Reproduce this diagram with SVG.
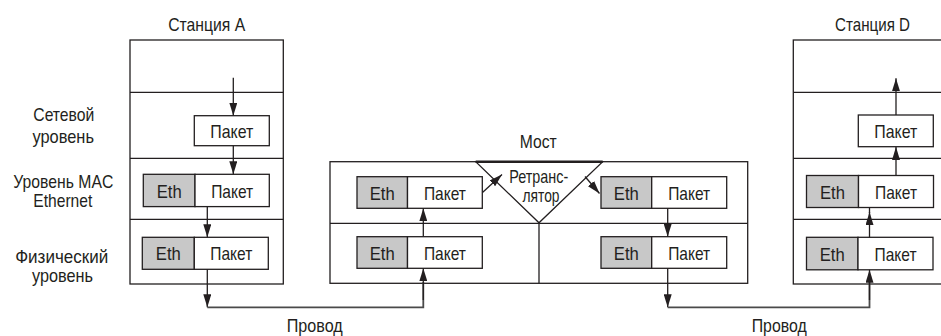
<svg xmlns="http://www.w3.org/2000/svg" width="941" height="336" viewBox="0 0 941 336">
<style>
.frame{fill:#fff;stroke:#231f20;stroke-width:1.3}
.div{stroke:#231f20;stroke-width:1.3;fill:none}
.eth{fill:#c8c8c8;stroke:#231f20;stroke-width:1.3}
.pk{fill:#fff;stroke:#231f20;stroke-width:1.3}
.t{font-family:"Liberation Sans Narrow","Liberation Sans",Arial,sans-serif;font-size:19px;fill:#231f20;text-anchor:middle}
.arr{stroke:#231f20;stroke-width:1.3;fill:none;marker-end:url(#ah)}
.wire{stroke:#4a4a4a;stroke-width:1.8;fill:none}
</style>
<defs>
<marker id="ah" markerUnits="userSpaceOnUse" markerWidth="13" markerHeight="8" refX="13" refY="4" orient="auto">
<path d="M0,0 L13,4 L0,8 z" fill="#231f20"/>
</marker>
</defs>

<g id="stationA">
<text class="t" x="206.7" y="31" textLength="77" lengthAdjust="spacingAndGlyphs">Станция A</text>
<rect class="frame" x="130" y="40" width="153.3" height="244"/>
<path class="div" d="M130,92.3H283.3M130,158.3H283.3M130,219.3H283.3"/>
<rect class="pk" x="194.3" y="115.7" width="75" height="30"/>
<text class="t" x="231.8" y="138" textLength="43" lengthAdjust="spacingAndGlyphs">Пакет</text>
<rect class="eth" x="143.3" y="174.3" width="51.7" height="32.3"/>
<text class="t" x="169.2" y="197.5" textLength="25" lengthAdjust="spacingAndGlyphs">Eth</text>
<rect class="pk" x="195" y="174.3" width="74.3" height="32.3"/>
<text class="t" x="232.2" y="197.5" textLength="42" lengthAdjust="spacingAndGlyphs">Пакет</text>
<rect class="eth" x="142.3" y="237.3" width="52" height="32"/>
<text class="t" x="168.3" y="260.3" textLength="25" lengthAdjust="spacingAndGlyphs">Eth</text>
<rect class="pk" x="194.3" y="237.3" width="74" height="32"/>
<text class="t" x="231.3" y="260.3" textLength="42" lengthAdjust="spacingAndGlyphs">Пакет</text>
</g>

<g id="layerLabels">
<text class="t" x="63.8" y="121" textLength="61" lengthAdjust="spacingAndGlyphs">Сетевой</text>
<text class="t" x="63.2" y="142.7" textLength="61.5" lengthAdjust="spacingAndGlyphs">уровень</text>
<text class="t" x="63.3" y="188.3" textLength="100" lengthAdjust="spacingAndGlyphs">Уровень MAC</text>
<text class="t" x="62.8" y="207.3" textLength="59" lengthAdjust="spacingAndGlyphs">Ethernet</text>
<text class="t" x="61.7" y="263.3" textLength="93" lengthAdjust="spacingAndGlyphs">Физический</text>
<text class="t" x="62.5" y="282" textLength="61" lengthAdjust="spacingAndGlyphs">уровень</text>
</g>

<g id="bridge">
<text class="t" x="538.3" y="148.3" textLength="37" lengthAdjust="spacingAndGlyphs">Мост</text>
<rect class="frame" x="330" y="161.7" width="417.7" height="121.6"/>
<path class="div" d="M330,223.3H747.7M539,223.3V283.3"/>
<rect class="eth" x="357" y="176.7" width="50.5" height="31.6"/>
<text class="t" x="382.2" y="199.5" textLength="25" lengthAdjust="spacingAndGlyphs">Eth</text>
<rect class="pk" x="407.5" y="176.7" width="74.8" height="31.6"/>
<text class="t" x="444.9" y="199.5" textLength="42" lengthAdjust="spacingAndGlyphs">Пакет</text>
<rect class="eth" x="357" y="236.7" width="50.5" height="31.6"/>
<text class="t" x="382.2" y="259.5" textLength="25" lengthAdjust="spacingAndGlyphs">Eth</text>
<rect class="pk" x="407.5" y="236.7" width="74.8" height="31.6"/>
<text class="t" x="444.9" y="259.5" textLength="42" lengthAdjust="spacingAndGlyphs">Пакет</text>
<rect class="eth" x="601" y="176.7" width="50.7" height="31.6"/>
<text class="t" x="626.3" y="199.5" textLength="25" lengthAdjust="spacingAndGlyphs">Eth</text>
<rect class="pk" x="651.7" y="176.7" width="75" height="31.6"/>
<text class="t" x="689.2" y="199.5" textLength="42" lengthAdjust="spacingAndGlyphs">Пакет</text>
<rect class="eth" x="601" y="236.7" width="50.7" height="31.6"/>
<text class="t" x="626.3" y="259.5" textLength="25" lengthAdjust="spacingAndGlyphs">Eth</text>
<rect class="pk" x="651.7" y="236.7" width="75" height="31.6"/>
<text class="t" x="689.2" y="259.5" textLength="42" lengthAdjust="spacingAndGlyphs">Пакет</text>
</g>

<g id="relay">
<polygon points="475.7,161.7 602.7,161.7 539,222.8" fill="#fff" stroke="#231f20" stroke-width="1.3"/>
<path d="M475.7,161.7H602.7" stroke="#231f20" stroke-width="2.6"/>
<text class="t" x="538.8" y="183.3" textLength="59" lengthAdjust="spacingAndGlyphs">Ретранс-</text>
<text class="t" x="541" y="202" textLength="37" lengthAdjust="spacingAndGlyphs">лятор</text>
</g>

<g id="stationD">
<text class="t" x="872.5" y="31" textLength="75" lengthAdjust="spacingAndGlyphs">Станция D</text>
<rect class="frame" x="793.3" y="40" width="153" height="244"/>
<path class="div" d="M793.3,92.3H946M793.3,158.3H946M793.3,219.3H946"/>
<rect class="pk" x="858.3" y="115" width="75" height="31.7"/>
<text class="t" x="895.8" y="138" textLength="43" lengthAdjust="spacingAndGlyphs">Пакет</text>
<rect class="eth" x="806.5" y="175.5" width="52" height="32"/>
<text class="t" x="832.5" y="198.5" textLength="25" lengthAdjust="spacingAndGlyphs">Eth</text>
<rect class="pk" x="858.5" y="175.5" width="75" height="32"/>
<text class="t" x="896" y="198.5" textLength="42" lengthAdjust="spacingAndGlyphs">Пакет</text>
<rect class="eth" x="806.5" y="237.3" width="51.5" height="32.5"/>
<text class="t" x="832.2" y="260.5" textLength="25" lengthAdjust="spacingAndGlyphs">Eth</text>
<rect class="pk" x="858" y="237.3" width="75" height="32.5"/>
<text class="t" x="895.5" y="260.5" textLength="42" lengthAdjust="spacingAndGlyphs">Пакет</text>
</g>

<g id="wireLabels">
<text class="t" x="314.7" y="331.5" textLength="56" lengthAdjust="spacingAndGlyphs">Провод</text>
<text class="t" x="779.2" y="331.5" textLength="55" lengthAdjust="spacingAndGlyphs">Провод</text>
</g>

<g id="connectors">
<path class="arr" d="M233.3,77.7V115.7"/>
<path class="arr" d="M233.3,145.7V174.3"/>
<path class="arr" d="M207.3,206.6V237.3"/>
<path class="arr" d="M207.3,269.3V307.3"/>
<path class="wire" d="M207.3,307.3H423.3V282"/>
<path class="arr" d="M423.3,300V268.3"/>
<path class="arr" d="M423.3,236.7V208.3"/>
<path class="arr" d="M482.5,192.5L502,174.5"/>
<path class="arr" d="M585,176.5L599.5,193.5"/>
<path class="arr" d="M667.7,208.3V236.7"/>
<path class="arr" d="M667.7,268.3V307.3"/>
<path class="wire" d="M667.7,307.3H869.5V282"/>
<path class="arr" d="M869.5,300V269.8"/>
<path class="div" d="M869.5,213V207.5"/>
<path class="arr" d="M869.5,237.3V212"/>
<path class="arr" d="M896,175.5V147"/>
<path class="arr" d="M896,115V78.3"/>
</g>
</svg>
